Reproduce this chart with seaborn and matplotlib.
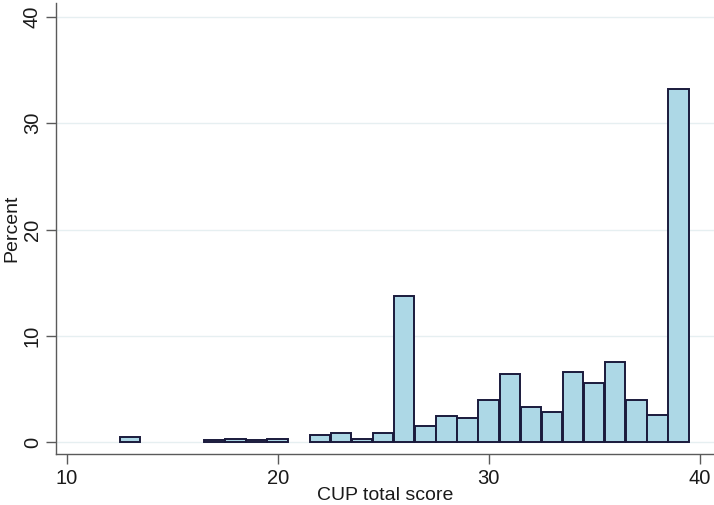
import seaborn as sns
import matplotlib.pyplot as plt

# CUP total score distribution (percent of respondents per score)
scores = [13, 17, 18, 19, 20, 22, 23, 24, 25, 26, 27, 28, 29, 30,
          31, 32, 33, 34, 35, 36, 37, 38, 39]
percent = [0.5, 0.17, 0.33, 0.17, 0.33, 0.67, 0.83, 0.33, 0.83, 13.8,
           1.57, 2.45, 2.26, 3.95, 6.4, 3.32, 2.83, 6.57, 5.54, 7.56,
           3.98, 2.57, 33.26]
xticks = [10, 20, 30, 40]
yticks = [0, 10, 20, 30, 40]

sns.set_style("white")
plt.rcParams['font.family'] = ['Liberation Sans', 'DejaVu Sans']

fig = plt.figure(figsize=(7.14, 5.05), dpi=100)
ax = fig.add_axes([0.078, 0.101, 0.922, 0.893])

sns.histplot(x=scores, weights=percent, discrete=True, shrink=0.97,
             color='#add8e6', alpha=1, edgecolor='#1a1a3c', linewidth=1.4,
             ax=ax, zorder=3)
# empty bins get no bar at all
for p in list(ax.patches):
    if p.get_height() == 0:
        p.remove()

ax.set_xlim(9.48, 40.68)
ax.set_ylim(-1.1, 41.3)
ax.set_xticks(xticks)
ax.set_yticks(yticks)
ax.set_yticklabels([str(t) for t in yticks], rotation=90, va='center')
ax.grid(axis='y', color='#e6eff1', linewidth=1.0, zorder=0)
ax.grid(axis='x', visible=False)

for s in ['top', 'right']:
    ax.spines[s].set_visible(False)
for s in ['left', 'bottom']:
    ax.spines[s].set_color('#5a5a5a')
    ax.spines[s].set_linewidth(1.0)

ax.tick_params(axis='both', length=7, width=1.0, color='#5a5a5a',
               labelsize=14.5, labelcolor='#1a1a1a', direction='out')
ax.tick_params(axis='x', pad=4)
ax.tick_params(axis='y', pad=3)
ax.tick_params(left=True, bottom=True)
ax.set_xlabel('CUP total score', fontsize=14, color='#1a1a1a', labelpad=-1)
ax.set_ylabel('Percent', fontsize=14, color='#1a1a1a', labelpad=2)

fig.savefig('out.png', dpi=100)
